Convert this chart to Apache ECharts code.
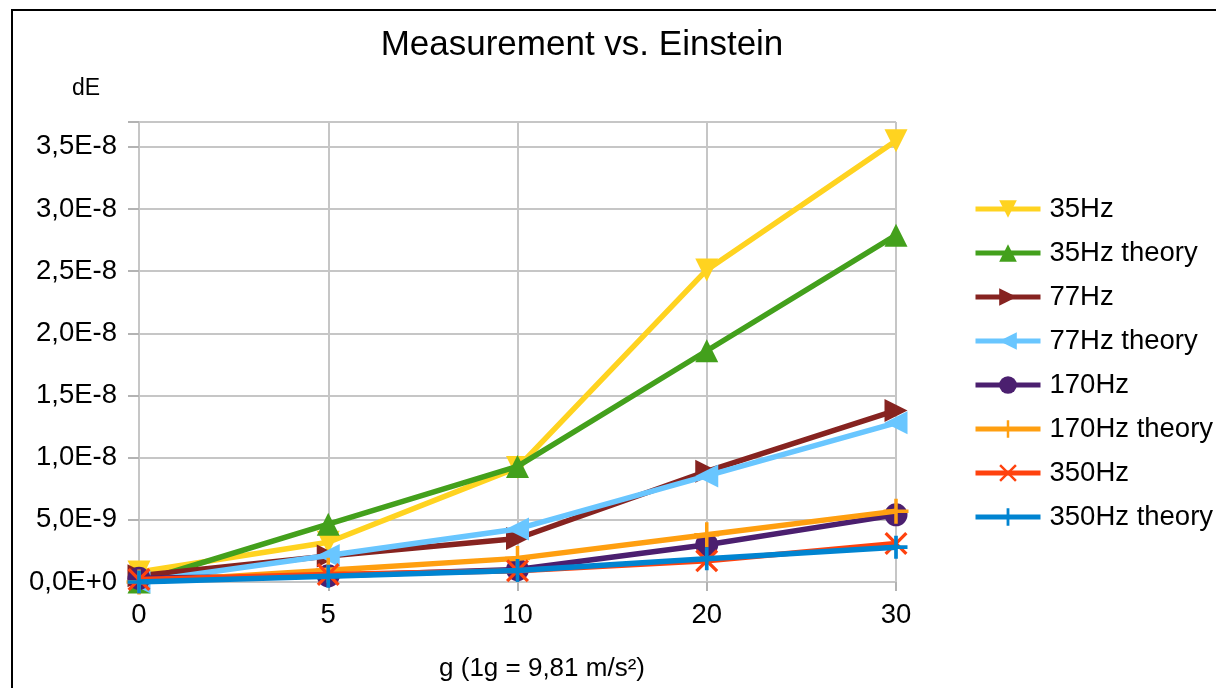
<!DOCTYPE html>
<html><head><meta charset="utf-8">
<script src="https://cdn.jsdelivr.net/npm/echarts@6/dist/echarts.min.js"></script>
<style>html,body{margin:0;padding:0;background:#fff}#c{width:1216px;height:688px}</style>
</head><body><div id="c"></div>
<script>
var categories = ['0', '5', '10', '20', '30'];
var seriesNames = ['35Hz', '35Hz theory', '77Hz', '77Hz theory', '170Hz', '170Hz theory', '350Hz', '350Hz theory'];
var v35 = [0.8e-9, 3.2e-9, 9.2e-9, 25.1e-9, 35.5e-9];
var v35t = [0.0, 4.65e-9, 9.3e-9, 18.6e-9, 27.9e-9];
var v77 = [0.5e-9, 2.1e-9, 3.5e-9, 8.9e-9, 13.8e-9];
var v77t = [0.0, 2.13e-9, 4.27e-9, 8.53e-9, 12.8e-9];
var v170 = [0.3e-9, 0.5e-9, 1.0e-9, 3.0e-9, 5.4e-9];
var v170t = [0.0, 0.95e-9, 1.9e-9, 3.8e-9, 5.7e-9];
var v350 = [0.2e-9, 0.6e-9, 0.9e-9, 1.7e-9, 3.1e-9];
var v350t = [0.0, 0.47e-9, 0.93e-9, 1.87e-9, 2.8e-9];
var allValues = [v35, v35t, v77, v77t, v170, v170t, v350, v350t];
var colors = ['#ffd320', '#43a01c', '#862320', '#69c6ff', '#4b1f6f', '#ff9f10', '#ff420e', '#0084d1'];
var symbols = [
  'path://M0,0 L10,0 L5,10 Z',
  'triangle',
  'path://M0,0 L10,5 L0,10 Z',
  'path://M10,0 L0,5 L10,10 Z',
  'circle',
  'path://M4.3,0 L5.7,0 L5.7,4.3 L10,4.3 L10,5.7 L5.7,5.7 L5.7,10 L4.3,10 L4.3,5.7 L0,5.7 L0,4.3 L4.3,4.3 Z',
  'path://M1,0 L5,4 L9,0 L10,1 L6,5 L10,9 L9,10 L5,6 L1,10 L0,9 L4,5 L0,1 Z',
  'path://M4.2,0 L5.8,0 L5.8,4.2 L10,4.2 L10,5.8 L5.8,5.8 L5.8,10 L4.2,10 L4.2,5.8 L0,5.8 L0,4.2 L4.2,4.2 Z'
];
var symbolSizes = [23, 23, 23, 23, 23, 25, 23, 23];
var FONT = '"Liberation Sans", Arial, sans-serif';

function fmt(v) {
  var r = v / 5e-9;
  if (Math.abs(r - Math.round(r)) > 1e-6) return '';
  if (Math.abs(v) < 1e-20) return '0,0E+0';
  var e = Math.floor(Math.log10(v) + 1e-9);
  var m = v / Math.pow(10, e);
  return m.toFixed(1).replace('.', ',') + 'E' + (e >= 0 ? '+' + e : e);
}

var series = seriesNames.map(function (n, i) {
  return {
    name: n, type: 'line', data: allValues[i],
    symbol: symbols[i], symbolSize: symbolSizes[i],
    lineStyle: { width: 5.5, color: colors[i] },
    itemStyle: { color: colors[i] },
    animation: false, z: 2 + i
  };
});

var chart = echarts.init(document.getElementById('c'));
chart.setOption({
  animation: false,
  textStyle: { fontFamily: FONT },
  title: {
    text: 'Measurement vs. Einstein', left: 577, textAlign: 'center', top: 23,
    textStyle: { fontFamily: FONT, fontSize: 35, fontWeight: 'normal', color: '#000' }
  },
  graphic: [
    { type: 'rect', shape: { x: 12, y: 10, width: 1230, height: 700 }, style: { fill: 'none', stroke: '#000', lineWidth: 2 }, z: 100 },
    { type: 'text', x: 72, y: 89, style: { text: 'dE', fontFamily: FONT, fontSize: 23, fill: '#000', textVerticalAlign: 'middle' } },
    { type: 'text', x: 542, y: 669, style: { text: 'g (1g = 9,81 m/s²)', fontFamily: FONT, fontSize: 26, fill: '#000', textAlign: 'center', textVerticalAlign: 'middle' } }
  ],
  grid: { left: 139, right: 320, top: 122, bottom: 106, containLabel: false },
  legend: {
    orient: 'vertical', left: 973, top: 195, padding: 0, itemWidth: 65, itemHeight: 22, itemGap: 16,
    lineStyle: { width: 5 },
    textStyle: { fontFamily: FONT, fontSize: 27.5, color: '#000', padding: [0, 0, 0, 4] },
    data: seriesNames
  },
  xAxis: {
    type: 'category', data: categories, boundaryGap: false,
    axisLine: { show: false },
    axisTick: { show: true, length: 9, alignWithLabel: true, lineStyle: { color: '#b3b3b3', width: 2 } },
    axisLabel: { fontFamily: FONT, fontSize: 27.5, color: '#000', margin: 19 },
    splitLine: { show: true, lineStyle: { color: '#c6c6c6', width: 2 } }
  },
  yAxis: {
    type: 'value', min: 0, max: 3.7e-8, interval: 5e-9,
    axisLine: { show: false },
    axisTick: { show: true, length: 11, lineStyle: { color: '#b3b3b3', width: 2 } },
    axisLabel: { fontFamily: FONT, fontSize: 27.5, color: '#000', margin: 22, formatter: fmt },
    splitLine: { show: true, lineStyle: { color: '#c6c6c6', width: 2 } }
  },
  series: series
});
</script></body></html>
